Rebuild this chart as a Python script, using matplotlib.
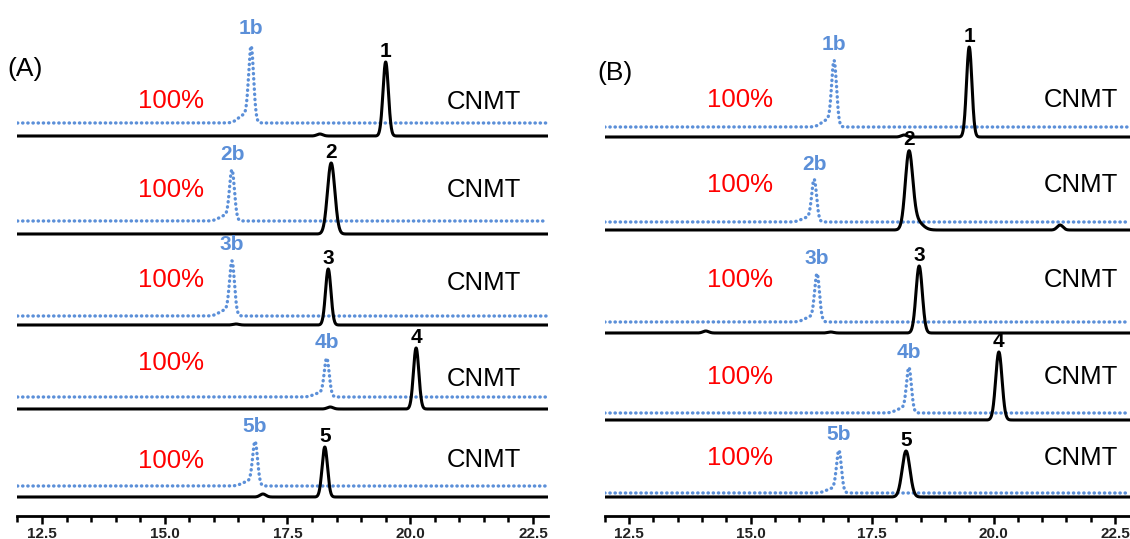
import numpy as np
import matplotlib.pyplot as plt
from matplotlib.ticker import MultipleLocator

plt.rcParams['font.family'] = ['Liberation Sans', 'DejaVu Sans']

# peak data (retention time in min, height in px-like units)
# panel A
a_time = [19.50, 18.39, 18.33, 20.12, 18.26]
a_height = [74, 71, 56, 61, 50]
a_sigma = [0.055, 0.075, 0.055, 0.055, 0.055]
a_b_time = [16.76, 16.37, 16.37, 18.30, 16.84]
a_b_height = [81, 54, 58, 41, 47]
a_minor = [[(18.16, 2)], [], [(16.45, 1)], [(18.37, 2)], [(17.00, 3)]]

# panel B
b_time = [19.50, 18.26, 18.47, 20.11, 18.20]
b_height = [90, 73, 67, 68, 46]
b_sigma = [0.055, 0.075, 0.065, 0.065, 0.08]
b_b_time = [16.72, 16.31, 16.37, 18.26, 16.82]
b_b_height = [70, 45, 51, 48, 45]
b_minor = [[(18.16, 2)], [(21.37, 5)], [(14.08, 2), (16.65, 1)], [], []]
b_tail = [0, 0.14, 0, 0, 0]

peak_labels = ['1', '2', '3', '4', '5']
blue_labels = ['1b', '2b', '3b', '4b', '5b']
yield_text = '100%'
enzyme_text = 'CNMT'

# layout: baseline offsets of each trace (axis units, measured up from the time axis)
a_off_black = [380, 282, 191, 107, 19]
a_off_blue = [393, 295, 200, 119, 30]
b_off_black = [379, 286, 183, 96, 19]
b_off_blue = [389, 294, 194, 103, 23]
a_text_y = [[415, 326, 236, 153, 55], [414, 326, 233, 137, 56]]
b_text_y = [[416, 331, 236, 139, 58], [416, 331, 236, 139, 58]]

BLUE = '#5b8fd8'
t = np.linspace(12.0, 22.8, 3000)


def gauss(x, mu, s):
    return np.exp(-0.5 * ((x - mu) / s) ** 2)


def black_trace(mu, h, s, minors, tail):
    y = h * gauss(t, mu, s)
    if tail:
        y += h * tail * gauss(t, mu + 0.13, 0.13)
    for m, mh in minors:
        y += mh * gauss(t, m, 0.06)
    return y


def blue_trace(mu, h):
    # sharp peak with a small fronting skirt
    return h * (0.9 * gauss(t, mu, 0.05) + 0.1 * gauss(t, mu - 0.14, 0.12))


def draw_panel(ax, times, heights, sigmas, btimes, bheights, minors, tails,
               off_k, off_b, text_y, x100, xcnmt):
    for i in range(5):
        yk = off_k[i] + black_trace(times[i], heights[i], sigmas[i], minors[i], tails[i])
        yb = off_b[i] + blue_trace(btimes[i], bheights[i])
        ax.plot(t, yb, color=BLUE, lw=2.4, linestyle=(0, (0.1, 1.45)),
                dash_capstyle='round', zorder=2)
        ax.plot(t, yk, color='black', lw=2.2, zorder=3)
        ax.text(btimes[i], off_b[i] + bheights[i] + 13, blue_labels[i], color=BLUE,
                fontsize=15, fontweight='bold', ha='center', va='center')
        ax.text(times[i], yk.max() + 11, peak_labels[i],
                color='black', fontsize=15, fontweight='bold', ha='center', va='center')
        ax.text(x100, text_y[0][i], yield_text, color='#ff0000', fontsize=18.5,
                ha='center', va='center')
        ax.text(xcnmt, text_y[1][i], enzyme_text, color='black', fontsize=18.5,
                ha='center', va='center')

    ax.set_xlim(12.0, 22.8)
    ax.set_ylim(0, 516)
    for s in ['top', 'left', 'right']:
        ax.spines[s].set_visible(False)
    ax.spines['bottom'].set_linewidth(2.0)
    ax.set_yticks([])
    ax.xaxis.set_major_locator(MultipleLocator(2.5))
    ax.xaxis.set_minor_locator(MultipleLocator(0.5))
    ax.tick_params(axis='x', which='major', direction='out', length=6, width=1.8,
                   pad=2.0, labelsize=11, labelcolor='#222222')
    ax.tick_params(axis='x', which='minor', direction='out', length=4, width=1.8)
    ax.xaxis.set_major_formatter(plt.FuncFormatter(lambda v, p: f'{v:.1f}'))
    ax.patch.set_alpha(0)


W, H = 1130, 539
fig = plt.figure(figsize=(W / 100, H / 100), dpi=100)

axA = fig.add_axes([17.45 / W, 23 / H, (547.7 - 17.45) / W, 516 / H])
draw_panel(axA, a_time, a_height, a_sigma, a_b_time, a_b_height, a_minor, [0] * 5,
           a_off_black, a_off_blue, a_text_y, 15.12, 21.5)

axB = fig.add_axes([604.7 / W, 23 / H, (1129.6 - 604.7) / W, 516 / H])
draw_panel(axB, b_time, b_height, b_sigma, b_b_time, b_b_height, b_minor, b_tail,
           b_off_black, b_off_blue, b_text_y, 14.78, 21.8)

fig.text(25 / W, 1 - 69 / H, '(A)', fontsize=19, ha='center', va='center')
fig.text(615 / W, 1 - 73 / H, '(B)', fontsize=19, ha='center', va='center')

fig.canvas.draw()
for lab in axA.get_xticklabels() + axB.get_xticklabels():
    lab.set_fontweight('bold')

fig.savefig('out.png', dpi=100)
